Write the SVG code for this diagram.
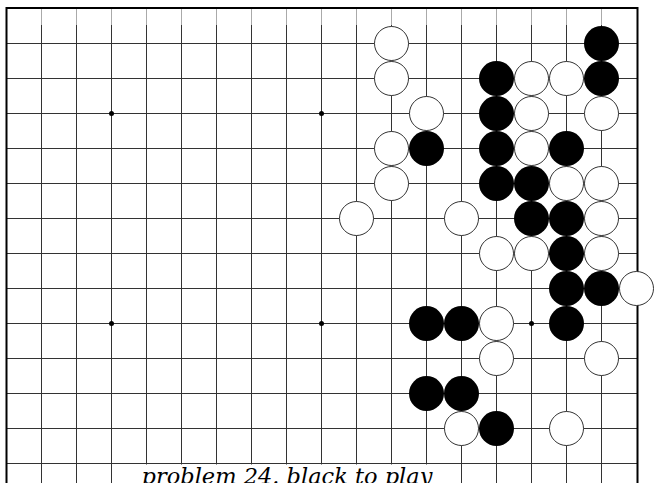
<svg xmlns="http://www.w3.org/2000/svg" width="655" height="483" viewBox="0 0 655 483">
<style>
.g{stroke:#333;stroke-width:1;fill:none}
.gt{stroke:#aaa;stroke-width:1;fill:none}
.b{stroke:#000;stroke-width:2;fill:none}
.w{fill:#fff;stroke:#333;stroke-width:1}
.k{fill:#000;stroke:none}
.s{fill:#000}
.t{font-family:"DejaVu Serif","Liberation Serif",serif;font-style:italic;font-size:22.5px;fill:#000}
</style>
<defs>
<circle id="W" r="17" class="w"/>
<circle id="K" r="17.5" class="k"/>
</defs>
<rect width="655" height="483" fill="#fff"/>
<g id="grid">
<path class="g" d="M41.5 25V483M76.5 25V483M111.5 25V483M146.5 25V483M181.5 25V483M216.5 25V483M251.5 25V483M286.5 25V483M321.5 25V483M356.5 25V483M391.5 25V483M426.5 25V483M461.5 25V483M496.5 25V483M531.5 25V483M566.5 25V483M601.5 25V483"/>
<path class="gt" d="M41.5 9V25M76.5 9V25M111.5 9V25M146.5 9V25M181.5 9V25M216.5 9V25M251.5 9V25M286.5 9V25M321.5 9V25M356.5 9V25M391.5 9V25M426.5 9V25M461.5 9V25M496.5 9V25M531.5 9V25M566.5 9V25M601.5 9V25"/>
<path class="g" d="M6.5 43.5H637M6.5 78.5H637M6.5 113.5H637M6.5 148.5H637M6.5 183.5H637M6.5 218.5H637M6.5 253.5H637M6.5 288.5H637M6.5 323.5H637M6.5 358.5H637M6.5 393.5H637M6.5 428.5H637M6.5 463.5H637"/>
<path class="b" d="M6.5 483V8H637.5V483"/>
</g>
<g id="stars">
<circle class="s" cx="111.5" cy="113.5" r="2.5"/>
<circle class="s" cx="321.5" cy="113.5" r="2.5"/>
<circle class="s" cx="531.5" cy="113.5" r="2.5"/>
<circle class="s" cx="111.5" cy="323.5" r="2.5"/>
<circle class="s" cx="321.5" cy="323.5" r="2.5"/>
<circle class="s" cx="531.5" cy="323.5" r="2.5"/>
</g>
<g id="stones">
<use href="#W" x="391.5" y="43.5"/>
<use href="#K" x="601.5" y="43.5"/>
<use href="#W" x="391.5" y="78.5"/>
<use href="#K" x="496.5" y="78.5"/>
<use href="#W" x="531.5" y="78.5"/>
<use href="#W" x="566.5" y="78.5"/>
<use href="#K" x="601.5" y="78.5"/>
<use href="#W" x="426.5" y="113.5"/>
<use href="#K" x="496.5" y="113.5"/>
<use href="#W" x="531.5" y="113.5"/>
<use href="#W" x="601.5" y="113.5"/>
<use href="#W" x="391.5" y="148.5"/>
<use href="#K" x="426.5" y="148.5"/>
<use href="#K" x="496.5" y="148.5"/>
<use href="#W" x="531.5" y="148.5"/>
<use href="#K" x="566.5" y="148.5"/>
<use href="#W" x="391.5" y="183.5"/>
<use href="#K" x="496.5" y="183.5"/>
<use href="#K" x="531.5" y="183.5"/>
<use href="#W" x="566.5" y="183.5"/>
<use href="#W" x="601.5" y="183.5"/>
<use href="#W" x="356.5" y="218.5"/>
<use href="#W" x="461.5" y="218.5"/>
<use href="#K" x="531.5" y="218.5"/>
<use href="#K" x="566.5" y="218.5"/>
<use href="#W" x="601.5" y="218.5"/>
<use href="#W" x="496.5" y="253.5"/>
<use href="#W" x="531.5" y="253.5"/>
<use href="#K" x="566.5" y="253.5"/>
<use href="#W" x="601.5" y="253.5"/>
<use href="#K" x="566.5" y="288.5"/>
<use href="#K" x="601.5" y="288.5"/>
<use href="#W" x="636.5" y="288.5"/>
<use href="#K" x="426.5" y="323.5"/>
<use href="#K" x="461.5" y="323.5"/>
<use href="#W" x="496.5" y="323.5"/>
<use href="#K" x="566.5" y="323.5"/>
<use href="#W" x="496.5" y="358.5"/>
<use href="#W" x="601.5" y="358.5"/>
<use href="#K" x="426.5" y="393.5"/>
<use href="#K" x="461.5" y="393.5"/>
<use href="#W" x="461.5" y="428.5"/>
<use href="#K" x="496.5" y="428.5"/>
<use href="#W" x="566.5" y="428.5"/>
</g>
<g id="caption">
<rect x="135" y="464.5" width="305" height="19" fill="#fff"/>
<text class="t" x="287" y="484" text-anchor="middle">problem 24. black to play</text>
</g>
</svg>
